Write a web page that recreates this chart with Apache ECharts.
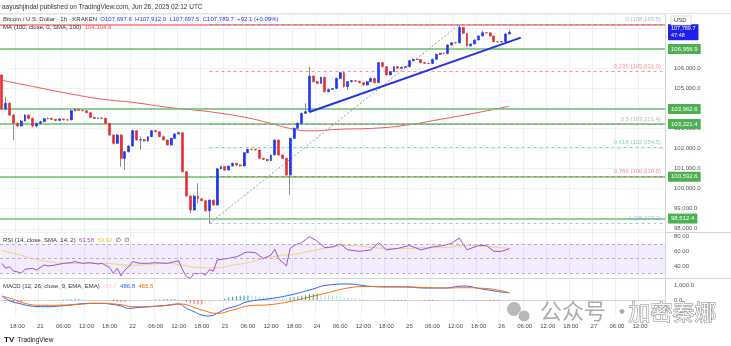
<!DOCTYPE html>
<html><head><meta charset="utf-8">
<script src="https://cdn.jsdelivr.net/npm/echarts@6/dist/echarts.min.js"></script>
<style>html,body{margin:0;padding:0;background:#fff}#c{width:731px;height:346px}</style>
</head><body><div id="c"></div>
<script>
// ---- data (Bitcoin / USD, 1h, Kraken) ----
const startDay = 20, startHour = 14, totalSlots = 173;
const opens  = [105660,103967,104250,103668,103253,103120,103370,103668,103500,103120,103253,103336,103485,103500,103450,103400,103470,103430,103419,103884,103950,103900,103880,103784,103552,103502,103520,103502,103253,102672,102257,102672,101510,101842,102124,102888,102423,102440,102373,102589,102888,102838,102589,102423,102174,102506,102722,102788,100846,99634,98937,99634,99500,99400,98904,99434,99185,100990,101095,100930,101128,101261,101178,101128,101792,101958,101950,101925,101510,101460,101394,101676,102423,101676,101510,100680,102506,103004,103253,103751,103834,105610,105328,105245,105544,104830,104946,104990,105494,105776,105079,105328,105378,105350,105278,105162,105328,105494,105278,106274,106075,105660,105826,106075,105992,106042,106075,106374,106440,106430,106274,106241,106230,106440,106689,106739,106730,107154,107270,107260,108034,107735,107104,107204,107403,107602,107768,107760,107602,107320,107310,107320,107697.6];
const closes = [103967,104250,103668,103253,103120,103370,103668,103500,103120,103253,103336,103485,103500,103450,103400,103470,103430,103419,103884,103950,103900,103880,103784,103552,103502,103520,103502,103253,102672,102257,102672,101510,101842,102124,102888,102423,102440,102373,102589,102888,102838,102589,102423,102174,102506,102722,102788,100846,99634,98937,99634,99500,99400,98904,99434,99185,100990,101095,100930,101128,101261,101178,101128,101792,101958,101950,101925,101510,101460,101394,101676,102423,101676,101510,100680,102506,103004,103253,103751,103834,105610,105328,105245,105544,104830,104946,104990,105494,105776,105079,105328,105378,105350,105278,105162,105328,105494,105278,106274,106075,105660,105826,106075,105992,106042,106075,106374,106440,106430,106274,106241,106230,106440,106689,106739,106730,107154,107270,107260,108034,107735,107104,107204,107403,107602,107768,107760,107602,107320,107310,107320,107702,107789.7];
const highs  = [105700,104580,104300,103720,103300,103420,103720,103700,103540,103300,103380,103520,103540,103530,103480,103500,103500,103460,103920,104000,103980,103930,103900,103800,103580,103550,103540,103520,103270,102700,102720,102700,101880,102160,102950,102900,102589,102470,102620,102920,102930,102860,102620,102440,102530,102760,102830,102800,100880,99680,99680,100265,99530,99420,99460,99460,101020,101150,101120,101160,101300,101290,101200,101830,102000,101990,101980,101950,101540,101480,101700,102460,102440,101700,101530,102540,103040,103290,103790,104249,106075,105650,105360,105580,105570,104980,105020,105530,105810,105800,105360,105410,105400,105380,105300,105360,105530,105520,106310,106300,106100,105860,106110,106100,106080,106110,106410,106480,106470,106450,106300,106270,106470,106720,106770,106770,107190,107300,107300,108165.5,108060,107760,107240,107440,107640,107868,107800,107790,107620,107350,107350,107740,107912.0];
const lows   = [103900,103900,103600,102423,103050,103080,103330,103450,103050,103050,103200,103300,103450,103420,103360,103370,103400,103380,103400,103850,103870,103850,103760,103520,103470,103480,103470,103220,102640,102200,102220,101095,100929,101800,102100,102380,101925,102340,102350,102560,102800,102560,102400,102150,102150,102480,102700,100800,99580,98771,98900,99269,99380,98860,98277.2,99150,99160,100950,100900,100900,101100,101150,101100,101100,101760,101920,101900,101480,101430,101360,101370,101650,101640,101480,100640,99684,102480,102980,103230,103720,103800,105290,105210,105220,104800,104800,104920,104960,105470,105040,104913,105300,105320,105250,105130,105140,105300,105250,105260,106040,105630,105640,105800,105960,105970,106010,106050,106350,106400,106250,106210,106200,106210,106420,106660,106700,106700,107130,107230,107240,107700,107070,107080,107180,107380,107580,107730,107580,107290,107280,107280,107300,107697.5];
// SMA(100) readings
const smaIdx = [0,8,17,26,34,44,50,56,63,69,75,80,88,96,105,114,123,132];
const smaVal = [105400,105090,104750,104460,104300,104030,103920,103780,103560,103300,103000,102880,102960,103000,103160,103450,103760,104104.9];
// RSI(14) readings and its SMA
const rsiIdx = [0,1,2,3,4,5,6,8,9,11,12,14,16,18,19,21,23,25,26,28,29,30,31,32,33,34,36,38,40,43,45,46,47,48,49,50,51,52,53,54,55,56,57,59,61,62,63,64,66,68,70,71,72,74,75,76,78,80,82,84,86,88,90,93,96,98,100,103,106,109,112,115,117,119,121,124,126,128,130,132];
const rsiVal = [43.6,36.8,39,33,32,30,35.5,36.8,34.5,41.4,40,41.4,43.6,44.5,45.9,43.6,44.5,42.7,43.6,38,30,36.8,26.4,34.5,39,45.9,43.6,43.6,44.5,43.6,46,47,34.5,25.5,23,30,29.5,30,27.7,35,33,48,49,50.5,52.7,54.5,58,59,58,50,55,63,50,40,64,68,72,80,74,65,66,70,62,60,62,72,62,64,68,62,66,68,71,78,62,68,68,60,60,63.58];
const rsiMaIdx = [0,4,8,12,17,26,34,43,47,51,56,60,64,68,72,76,80,85,90,95,100,105,110,115,120,125,132];
const rsiMaVal = [61,56,50,46,43.6,43.6,41,43.6,41,38,37.5,41,44.5,50,54,56,60,65,68,66,64,64,65,65,68,67,63.92];
// MACD(12,26,9) readings
const macdIdx = [0,2,5,7,10,12,15,18,20,23,26,28,31,33,36,39,41,44,46,48,50,52,54,56,58,61,64,70,75,80,85,90,95,100,105,110,115,120,125,130,132];
const macdVal = [266,-44,-266,-377,-444,-444,-400,-333,-266,-222,-222,-266,-400,-555,-488,-444,-400,-333,-266,-555,-777,-1000,-1066,-888,-622,-400,-111,100,330,667,1000,1067,930,867,867,800,800,930,730,530,486.8];
const sigIdx = [0,3,6,10,17,25,31,34,41,46,52,56,60,64,70,75,80,85,90,95,100,105,110,115,120,125,130,132];
const sigVal = [266,44,-222,-355,-333,-222,-311,-444,-400,-266,-666,-888,-666,-400,-300,-100,200,500,800,900,900,880,830,800,820,780,620,465.5];
const histVal = [0,-20,-80,-120,-150,-160,-150,-120,-90,-60,-40,-20,-10,0,10,20,30,40,50,60,60,50,40,30,20,10,0,-10,-40,-80,-110,-130,-140,-120,-80,-50,-30,-10,0,20,30,40,50,60,70,70,50,-20,-120,-200,-250,-280,-300,-260,-200,-150,-60,20,90,160,220,260,290,300,300,290,270,250,220,200,190,180,170,150,130,160,200,240,280,320,380,420,420,400,370,340,300,260,230,200,170,140,110,80,60,40,20,0,-10,0,-20,-40,-50,-60,-70,-70,-60,-50,-40,-40,-50,-60,-60,-50,-40,-30,-20,-10,0,20,40,20,-10,-30,-40,-40,-40,-50,-60,-60,-50,-40,21.3];
// horizontal levels
const greenLevels = [106956.9,103962.6,103221.4,100592.6,98512.4];
const topLevel = 108165.5;
const fibLevels = [0,0.236,0.5,0.618,0.786,1];
const fibPrices = [108165.5,105831.9,103221.4,102054.5,100610.8,98277.2];
const fibColors = ['#787b86','#f23645','#787b86','#22ab94','#f23645','#5b8def'];
const fibStartIdx = 54, fibHighIdx = 119;
const trendIdx = [80,135];
const trendVal = [103820,107520];
const lastPrice = 107789.7;
const hiddenPriceTicks = [108000,107000,104000];

// ---- build ----
const cats = [];
for (let i=0;i<totalSlots;i++){ const h=startHour+i; cats.push((startDay+Math.floor(h/24))+' '+(h%24)); }
const hourOf = i => (startHour+i)%24;
const dayOf = i => startDay+Math.floor((startHour+i)/24);
const showTick = (i) => hourOf(i)%6===0 && i<170;
const fmt1 = v => Number(v).toLocaleString('en-US',{minimumFractionDigits:1,maximumFractionDigits:1});
const sparse = (idx,val) => { const a=new Array(opens.length).fill(null); idx.forEach((k,j)=>a[k]=val[j]); return a; };

const wickData = opens.map((o,i)=>[o,closes[i],lows[i],highs[i]]);
const bodyData = opens.map((o,i)=>[o,closes[i],Math.min(o,closes[i]),Math.max(o,closes[i])]);

const FONT = 'Liberation Sans, DejaVu Sans, sans-serif';
const UP='#1f35f2', DOWN='#ea2a33';

const xBase = (gi, labels) => ({
  type:'category', data:cats, gridIndex:gi, boundaryGap:true,
  axisLine:{show: labels, lineStyle:{color:'#d1d4dc'}}, axisTick:{show:false},
  axisLabel:{show:labels, interval:(i)=>showTick(i), color:'#4a4a4a', fontSize:6, fontFamily:FONT, margin:5,
    formatter:(v,i)=>{ const h=hourOf(i); return h===0? String(dayOf(i)) : (h<10?'0'+h:h)+':00'; }},
  splitLine:{show:true, interval:(i)=>showTick(i), lineStyle:{color:'#eef0f4', width:1}}
});

const pMax = 108698, pMin = 97842;
const option = {
  animation:false,
  backgroundColor:'#fff',
  textStyle:{fontFamily:FONT},
  grid:[
    {left:0, right:66, top:14, height:218},
    {left:0, right:66, top:233, height:45},
    {left:0, right:66, top:279, height:39}
  ],
  xAxis:[xBase(0,false), xBase(1,false), xBase(2,true)],
  yAxis:[
    {type:'value', gridIndex:0, position:'right', min:pMin, max:pMax, minInterval:1000, maxInterval:1000, splitNumber:11,
     axisLine:{show:true, lineStyle:{color:'#d1d4dc'}}, axisTick:{show:false},
     axisLabel:{color:'#555', fontSize:6, fontFamily:FONT, margin:9, showMinLabel:false, showMaxLabel:false,
       formatter:v=> hiddenPriceTicks.includes(v) ? '' : fmt1(v)},
     splitLine:{lineStyle:{color:'#eef0f4'}}},
    {type:'value', gridIndex:1, position:'right', min:23.6, max:85, minInterval:20, maxInterval:20,
     axisLine:{show:true, lineStyle:{color:'#d1d4dc'}}, axisTick:{show:false},
     axisLabel:{color:'#555', fontSize:6, fontFamily:FONT, margin:9, showMinLabel:false, showMaxLabel:false, formatter:v=>v.toFixed(2)},
     splitLine:{show:false}},
    {type:'value', gridIndex:2, position:'right', min:-1200, max:1400, minInterval:1000, maxInterval:1000,
     axisLine:{show:true, lineStyle:{color:'#d1d4dc'}}, axisTick:{show:false},
     axisLabel:{color:'#555', fontSize:6, fontFamily:FONT, margin:9, showMinLabel:false, showMaxLabel:false,
       formatter:v=> v<0? '' : fmt1(v)},
     splitLine:{show:false}}
  ],
  series:[
    {type:'line', xAxisIndex:0, yAxisIndex:0, data:sparse(smaIdx,smaVal), connectNulls:true, smooth:true, symbol:'none',
     lineStyle:{color:'#f0555d', width:1}, silent:true, z:3},
    {type:'candlestick', xAxisIndex:0, yAxisIndex:0, data:wickData, barWidth:1, silent:true, z:4,
     itemStyle:{color:'#8a8d96', color0:'#8a8d96', borderColor:'#8a8d96', borderColor0:'#8a8d96', borderWidth:1},
     markLine:{silent:true, symbol:'none', animation:false,
       data: greenLevels.map(v=>({yAxis:v, lineStyle:{color:'#6cbf6f', width:1.6, type:'solid'},
         label:{show:true, position:'end', distance:3, formatter:fmt1(v), backgroundColor:'#4caf50', color:'#fff', fontSize:6, padding:[2,3,2,3], fontFamily:FONT}}))
       .concat([{yAxis:topLevel, lineStyle:{color:'#f4777c', width:1.6, type:'solid'}, label:{show:false}},
         {yAxis:lastPrice, lineStyle:{color:'rgba(0,0,0,0)', width:0}, label:{show:true, position:'end', distance:3,
           formatter:fmt1(lastPrice)+'\n47:48', backgroundColor:'#1f1ff0', color:'#fff', fontSize:5.5, lineHeight:7, padding:[1,3,1,3], fontFamily:FONT}}])
       .concat(fibPrices.map((p,k)=>[
         {coord:[fibStartIdx,p], lineStyle:{color:fibColors[k], width:1, type:[3,3], opacity:0.55},
          label:{show:true, position:'insideEndTop', distance:[2,2], formatter: fibLevels[k]+' ('+fmt1(p)+')', color:fibColors[k], fontSize:6, fontFamily:FONT}},
         {coord:[totalSlots-1,p]}]))
     }},
    {type:'candlestick', xAxisIndex:0, yAxisIndex:0, data:bodyData, barWidth:2.4, silent:true, z:5,
     itemStyle:{color:UP, color0:DOWN, borderColor:UP, borderColor0:DOWN, borderWidth:0.6}},
    {type:'line', xAxisIndex:0, yAxisIndex:0, data:[[fibStartIdx,fibPrices[5]],[fibHighIdx,fibPrices[0]]], symbol:'none',
     lineStyle:{color:'#9598a1', width:1, type:[2,2]}, silent:true, z:3},
    {type:'line', xAxisIndex:0, yAxisIndex:0, data:trendIdx.map((k,j)=>[k,trendVal[j]]), symbol:'none',
     lineStyle:{color:'#2634e6', width:2}, silent:true, z:6},
    // RSI
    {type:'line', xAxisIndex:1, yAxisIndex:1, data:sparse(rsiMaIdx,rsiMaVal), connectNulls:true, smooth:true, symbol:'none',
     lineStyle:{color:'#f5d36b', width:1}, silent:true, z:3,
     markArea:{silent:true, itemStyle:{color:'rgba(156,110,230,0.13)'}, data:[[{yAxis:30},{yAxis:70}]]},
     markLine:{silent:true, symbol:'none', label:{show:false}, lineStyle:{color:'#b9a6dc', width:1, type:[3,3]},
       data:[{yAxis:70},{yAxis:50},{yAxis:30}]}},
    {type:'line', xAxisIndex:1, yAxisIndex:1, data:sparse(rsiIdx,rsiVal), connectNulls:true, symbol:'none',
     lineStyle:{color:'#9c4fd6', width:1}, silent:true, z:4},
    // MACD
    {type:'bar', xAxisIndex:2, yAxisIndex:2, barWidth:1, silent:true,
     data: histVal.map((v,i)=>({value:v, itemStyle:{color: v>=0 ? (i>0&&v<histVal[i-1]?'#b2dfdb':'#26a69a') : (i>0&&v>histVal[i-1]?'#ffcdd2':'#ff5252')}}))},
    {type:'line', xAxisIndex:2, yAxisIndex:2, data:sparse(macdIdx,macdVal), connectNulls:true, smooth:true, symbol:'none',
     lineStyle:{color:'#2962ff', width:1}, silent:true},
    {type:'line', xAxisIndex:2, yAxisIndex:2, data:sparse(sigIdx,sigVal), connectNulls:true, smooth:true, symbol:'none',
     lineStyle:{color:'#ff6d00', width:1}, silent:true}
  ],
  graphic:[
    {type:'text', left:2, top:4, style:{text:'aayushjindal published on TradingView.com, Jun 26, 2025 02:12 UTC', fill:'#333', font:'6.5px '+FONT}},
    {type:'line', shape:{x1:0,y1:13.5,x2:731,y2:13.5}, style:{stroke:'#e0e3eb', lineWidth:1}},
    {type:'line', shape:{x1:0,y1:232.5,x2:731,y2:232.5}, style:{stroke:'#d1d4dc', lineWidth:1}},
    {type:'line', shape:{x1:0,y1:278.5,x2:731,y2:278.5}, style:{stroke:'#d1d4dc', lineWidth:1}},
    {type:'text', left:3, top:16, z:20, style:{rich:{a:{fill:'#333',fontSize:6,fontFamily:FONT},b:{fill:'#1f35f2',fontSize:6,fontFamily:FONT}},
      text:'{a|Bitcoin / U.S. Dollar · 1h · KRAKEN  }{b|O107,697.6  H107,912.0  L107,697.5  C107,789.7  +92.1 (+0.09%)}'}},
    {type:'text', left:3, top:24, z:20, style:{rich:{a:{fill:'#333',fontSize:6,fontFamily:FONT},b:{fill:'#f0555d',fontSize:6,fontFamily:FONT}},
      text:'{a|MA (100, close, 0, SMA, 100)  }{b|104,104.9}'}},
    {type:'text', left:3, top:237, z:20, style:{rich:{a:{fill:'#333',fontSize:6,fontFamily:FONT},b:{fill:'#9c4fd6',fontSize:6,fontFamily:FONT},c:{fill:'#e6c34a',fontSize:6,fontFamily:FONT}},
      text:'{a|RSI (14, close, SMA, 14, 2)  }{b|63.58  }{c|63.92  }{a|∅  ∅}'}},
    {type:'text', left:3, top:283, z:20, style:{rich:{a:{fill:'#333',fontSize:6,fontFamily:FONT},b:{fill:'#ffcdd2',fontSize:6,fontFamily:FONT},c:{fill:'#2962ff',fontSize:6,fontFamily:FONT},d:{fill:'#ff6d00',fontSize:6,fontFamily:FONT}},
      text:'{a|MACD (12, 26, close, 9, EMA, EMA)  }{b|-58.7  }{c|486.8  }{d|465.5}'}},
    {type:'rect', shape:{x:671,y:16,width:20,height:9}, style:{fill:'#fff', stroke:'#d1d4dc', lineWidth:0.8}, z:20},
    {type:'text', left:674, top:17.5, z:21, style:{text:'USD', fill:'#333', font:'6px '+FONT}},
    {type:'text', left:4, top:334, style:{rich:{a:{fill:'#131722',fontSize:8,fontWeight:'bold',fontFamily:FONT},b:{fill:'#131722',fontSize:6.5,fontFamily:FONT}}, text:'{a|TV} {b|TradingView}'}},
    {type:'circle', shape:{cx:514,cy:309,r:7}, style:{fill:'rgba(160,160,160,0.75)'}, z:29},
    {type:'circle', shape:{cx:524,cy:316,r:6}, style:{fill:'rgba(160,160,160,0.75)', stroke:'#fff', lineWidth:1}, z:29},
    {type:'text', left:540, top:300, z:30, style:{text:'公众号 · ', fill:'rgba(150,150,150,0.8)', font:'22px "Noto Sans CJK SC"'}},
    {type:'text', left:628, top:300, z:30, style:{text:'加密秦娜', fill:'rgba(255,255,255,0.9)', stroke:'rgba(120,120,120,0.9)', lineWidth:1, font:'22px "Noto Sans CJK SC"'}}
  ]
};
echarts.init(document.getElementById('c'),null,{renderer:'canvas'}).setOption(option);
</script></body></html>
